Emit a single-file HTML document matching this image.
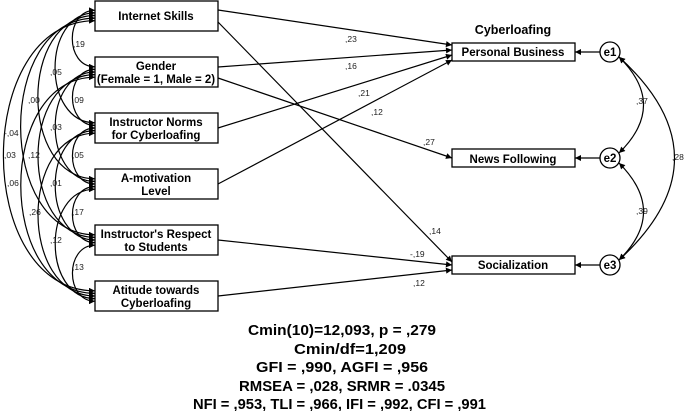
<!DOCTYPE html>
<html><head><meta charset="utf-8"><style>
body{margin:0;background:#fff;width:685px;height:411px;overflow:hidden}
svg{display:block;font-family:"Liberation Sans",sans-serif}
.b{font-weight:bold;font-size:11.5px}
.l{font-size:8.5px;fill:#222}
.s{font-weight:bold;font-size:14.5px}
</style></head><body>
<svg id="s" width="685" height="411" viewBox="0 0 685 411">
<defs><marker id="a" viewBox="0 0 10 10" refX="10" refY="5" markerWidth="10" markerHeight="6" orient="auto-start-reverse" markerUnits="userSpaceOnUse"><path d="M0,0L10,5L0,10z"/></marker></defs>
<g id="arcs" fill="none" stroke="#000" stroke-width="1.2"></g>
<g fill="#fff" stroke="#000" stroke-width="1.3">
<rect x="95" y="1" width="123" height="30"/>
<rect x="95" y="57" width="123" height="30"/>
<rect x="95" y="113" width="123" height="30"/>
<rect x="95" y="169" width="123" height="30"/>
<rect x="95" y="225" width="123" height="30"/>
<rect x="95" y="281" width="123" height="30"/>
<rect x="452" y="43" width="123" height="18"/>
<rect x="452" y="149" width="123" height="18"/>
<rect x="452" y="256" width="123" height="18"/>
<circle cx="610" cy="52" r="10"/><circle cx="610" cy="158" r="10"/><circle cx="610" cy="265" r="10"/>
</g>
<g fill="none" stroke="#000" stroke-width="1.2" marker-end="url(#a)">
<path d="M218,10L452,45"/><path d="M218,22L452,262"/>
<path d="M218,67L452,50"/><path d="M218,78L452,158"/>
<path d="M218,128L452,55"/><path d="M218,184L452,60"/>
<path d="M218,240L452,265"/><path d="M218,296L452,270"/>
<path d="M600,52L575,52"/><path d="M600,158L575,158"/><path d="M600,265L575,265"/>
<path d="M619,57Q668,105 619,153" marker-start="url(#a)"/>
<path d="M619,163Q668,212 619,260" marker-start="url(#a)"/>
<path d="M619,57Q730,158 619,260" marker-start="url(#a)"/>
</g>
<g text-anchor="middle" class="b">
<text x="156" y="20">Internet Skills</text>
<text x="156" y="70">Gender</text><text x="156" y="83">(Female = 1, Male = 2)</text>
<text x="156" y="126">Instructor Norms</text><text x="156" y="139">for Cyberloafing</text>
<text x="156" y="182">A-motivation</text><text x="156" y="195">Level</text>
<text x="156" y="238">Instructor's Respect</text><text x="156" y="251">to Students</text>
<text x="156" y="294">Atitude towards</text><text x="156" y="307">Cyberloafing</text>
<text x="513" y="56">Personal Business</text>
<text x="513" y="163">News Following</text>
<text x="513" y="269">Socialization</text>
<text x="513" y="34" style="font-size:12.5px">Cyberloafing</text>
<text x="610" y="56">e1</text><text x="610" y="162">e2</text><text x="610" y="269">e3</text>
</g>
<g class="l">
<text x="345" y="42">,23</text><text x="345" y="69">,16</text><text x="358" y="96">,21</text><text x="371" y="115">,12</text>
<text x="423" y="145">,27</text><text x="429" y="234">,14</text><text x="410" y="257">-,19</text><text x="413" y="286">,12</text>
<text x="636" y="104">,37</text><text x="636" y="214">,39</text><text x="672" y="160">,28</text>
<text x="73" y="47">,19</text><text x="50" y="75">,05</text><text x="28" y="103">,00</text>
<text x="4" y="136">-,04</text><text x="4" y="158">,03</text><text x="7" y="186">,06</text>
<text x="72" y="103">,09</text><text x="50" y="130">,03</text><text x="28" y="158">,12</text>
<text x="72" y="158">,05</text><text x="50" y="186">,01</text><text x="29" y="215">,26</text>
<text x="72" y="215">,17</text><text x="50" y="243">,12</text><text x="72" y="270">,13</text>
</g>
<g class="s">
<text x="248" y="335" textLength="188" lengthAdjust="spacingAndGlyphs">Cmin(10)=12,093, p = ,279</text>
<text x="294" y="354" textLength="112" lengthAdjust="spacingAndGlyphs">Cmin/df=1,209</text>
<text x="256" y="372" textLength="172" lengthAdjust="spacingAndGlyphs">GFI = ,990, AGFI = ,956</text>
<text x="239" y="391" textLength="206" lengthAdjust="spacingAndGlyphs">RMSEA = ,028, SRMR = .0345</text>
<text x="193" y="409" textLength="293" lengthAdjust="spacingAndGlyphs">NFI = ,953, TLI = ,966, IFI = ,992, CFI = ,991</text>
</g>
</svg>
<script>
var c=[15.5,72,128,184,240,296],g=document.getElementById('arcs'),o=[[],[],[],[],[],[]];
for(var i=0;i<6;i++)for(var j=i+1;j<6;j++){o[i].push(j);o[j].push(i);}
function yo(i,k){var n=o[i],idx=n.indexOf(k);return c[i]+(idx-(n.length-1)/2)*2.6;}
for(var i=0;i<6;i++)for(var j=i+1;j<6;j++){
var y1=yo(i,j),y2=yo(j,i),d=y2-y1,cx=95-0.43*d-6;
var p=document.createElementNS('http://www.w3.org/2000/svg','path');
p.setAttribute('d','M95,'+y1+' C'+cx+','+y1+' '+cx+','+y2+' 95,'+y2);
p.setAttribute('marker-start','url(#a)');p.setAttribute('marker-end','url(#a)');
g.appendChild(p);}
</script>
</body></html>
